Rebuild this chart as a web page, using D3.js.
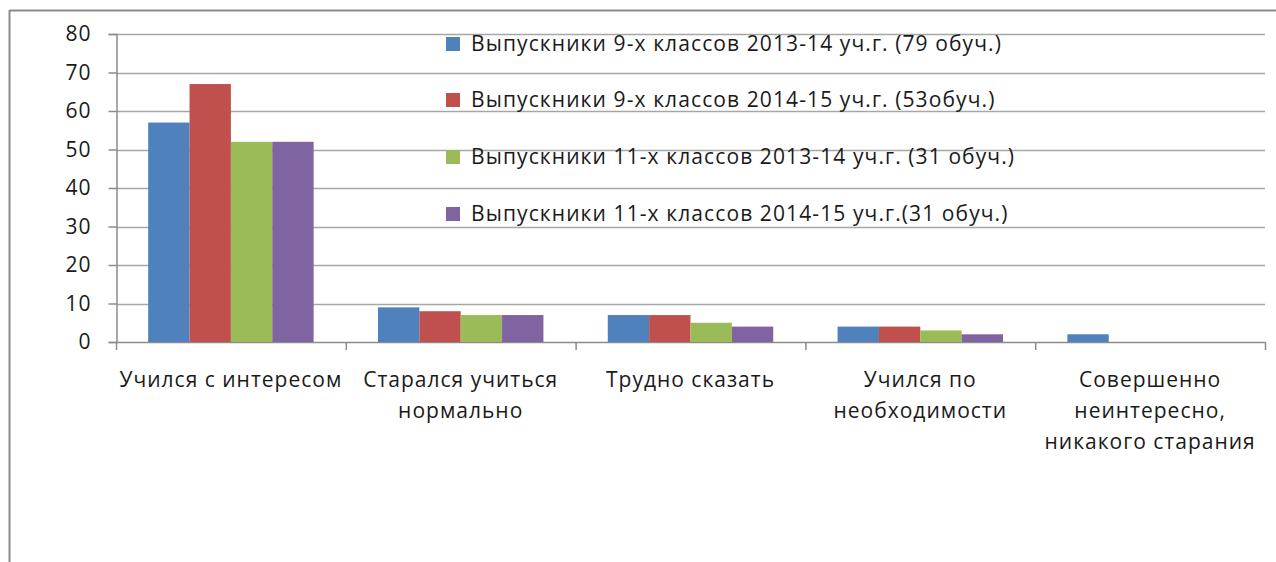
<!DOCTYPE html>
<html>
<head>
<meta charset="utf-8">
<script src="https://cdn.jsdelivr.net/npm/d3@7"></script>
<style>
  body { margin: 0; background: #fff; }
  text { font-family: "Open Sans", sans-serif; fill: #1a1a1a; }
</style>
</head>
<body>
<svg width="1276" height="562"></svg>
<script>
// Categories (x axis), one line per array entry
const categories = [
    ["Учился с интересом"],
    ["Старался учиться", "нормально"],
    ["Трудно сказать"],
    ["Учился по", "необходимости"],
    ["Совершенно", "неинтересно,", "никакого старания"]
];

// Series names as in the legend
const seriesNames = [
    "Выпускники 9-х классов 2013-14 уч.г. (79 обуч.)",
    "Выпускники 9-х классов 2014-15 уч.г. (53обуч.)",
    "Выпускники 11-х классов 2013-14 уч.г. (31 обуч.)",
    "Выпускники 11-х классов 2014-15 уч.г.(31 обуч.)"
];

// Values per series, in category order
const grade9_2014 = [57, 9, 7, 4, 2];
const grade9_2015 = [67, 8, 7, 4, 0];
const grade11_2014 = [52, 7, 5, 3, 0];
const grade11_2015 = [52, 7, 4, 2, 0];

const yTicks = [0, 10, 20, 30, 40, 50, 60, 70, 80];
const seriesColors = ["#4f81bd", "#c0504d", "#9bbb59", "#8064a2"];

const allSeries = [grade9_2014, grade9_2015, grade11_2014, grade11_2015];

const svg = d3.select("svg");

// Outer chart frame (top and left edges visible)
svg.append("line").attr("x1", 9.5).attr("x2", 1276).attr("y1", 10.5).attr("y2", 10.5)
   .attr("stroke", "#8c8c8c").attr("stroke-width", 2);
svg.append("line").attr("x1", 9.5).attr("x2", 9.5).attr("y1", 10).attr("y2", 562)
   .attr("stroke", "#8c8c8c").attr("stroke-width", 2);

const plotLeft = 116, plotRight = 1265, plotTop = 34, plotBottom = 342;

const x0 = d3.scaleBand()
             .domain(d3.range(categories.length))
             .range([plotLeft, plotRight])
             .paddingInner(0.28)
             .paddingOuter(0.14);

const x1 = d3.scaleBand()
             .domain(d3.range(seriesNames.length))
             .range([0, x0.bandwidth()]);

const y = d3.scaleLinear().domain([0, 80]).range([plotBottom, plotTop]);

// Gridlines
svg.append("g")
   .selectAll("line")
   .data(yTicks.slice(1))
   .join("line")
   .attr("x1", plotLeft).attr("x2", plotRight)
   .attr("y1", d => Math.round(y(d)) + 0.5).attr("y2", d => Math.round(y(d)) + 0.5)
   .attr("stroke", "#a6a6a6").attr("stroke-width", 1.5);

// Y axis
const yAxis = svg.append("g")
   .attr("transform", `translate(${plotLeft + 0.5},0)`)
   .call(d3.axisLeft(y).tickValues(yTicks).tickSize(8).tickPadding(17));
yAxis.select(".domain").attr("stroke", "#8c8c8c").attr("stroke-width", 1.5);
yAxis.selectAll(".tick line").attr("stroke", "#8c8c8c").attr("stroke-width", 1.5);
yAxis.selectAll(".tick text")
     .attr("font-size", 21)
     .attr("letter-spacing", 1)
     .attr("font-family", "'Open Sans', sans-serif")
     .attr("fill", "#1a1a1a");

// X axis baseline and category dividers
const catStep = (plotRight - plotLeft) / categories.length;
svg.append("line").attr("x1", plotLeft).attr("x2", plotRight)
   .attr("y1", plotBottom + 0.5).attr("y2", plotBottom + 0.5)
   .attr("stroke", "#8c8c8c").attr("stroke-width", 1.5);
svg.append("g")
   .selectAll("line")
   .data(d3.range(categories.length + 1))
   .join("line")
   .attr("x1", i => plotLeft + i * catStep + 0.5).attr("x2", i => plotLeft + i * catStep + 0.5)
   .attr("y1", plotBottom).attr("y2", plotBottom + 8)
   .attr("stroke", "#8c8c8c").attr("stroke-width", 1.5);

// Bars
svg.append("g")
   .selectAll("g")
   .data(allSeries)
   .join("g")
   .attr("fill", (d, i) => seriesColors[i])
   .each(function (values, si) {
        d3.select(this).selectAll("rect")
          .data(values)
          .join("rect")
          .attr("x", (v, ci) => x0(ci) + x1(si))
          .attr("y", v => y(v))
          .attr("width", x1.bandwidth())
          .attr("height", v => plotBottom - y(v));
   });

// Category labels
svg.append("g")
   .selectAll("text")
   .data(categories)
   .join("text")
   .attr("text-anchor", "middle")
   .attr("font-size", 21)
   .attr("letter-spacing", 1)
   .attr("x", (d, i) => x0(i) + x0.bandwidth() / 2)
   .attr("y", 387)
   .each(function (lines) {
        const t = d3.select(this);
        lines.forEach((line, li) => {
            t.append("tspan")
             .attr("x", t.attr("x"))
             .attr("dy", li === 0 ? 0 : 31)
             .text(line);
        });
   });

// Legend
const legendY = [44, 100, 157, 214];
const legend = svg.append("g")
   .selectAll("g")
   .data(seriesNames)
   .join("g")
   .attr("transform", (d, i) => `translate(446,${legendY[i]})`);
legend.append("rect")
      .attr("x", 0).attr("y", -7).attr("width", 14).attr("height", 14)
      .attr("fill", (d, i) => seriesColors[i]);
legend.append("text")
      .attr("x", 25).attr("y", 7)
      .attr("font-size", 21)
      .attr("letter-spacing", 1.1)
      .text(d => d);
</script>
</body>
</html>
